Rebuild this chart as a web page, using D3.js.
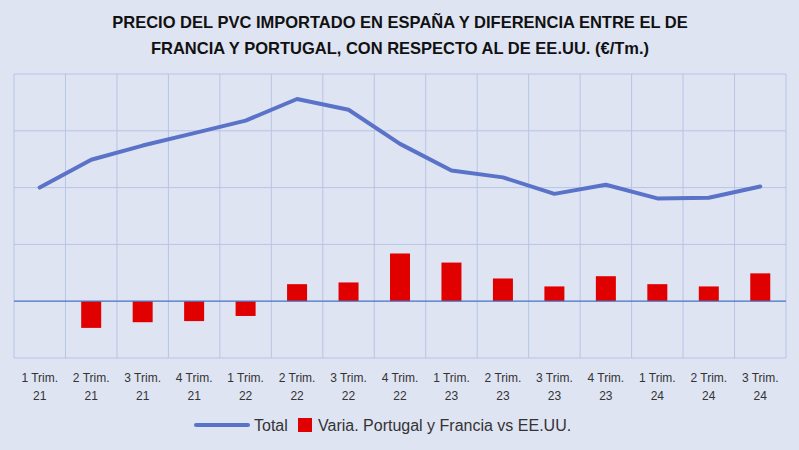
<!DOCTYPE html>
<html><head><meta charset="utf-8">
<script src="https://cdn.jsdelivr.net/npm/d3@7"></script>
<style>body{margin:0;background:#dfe4f3}</style></head>
<body><svg id="c" width="799" height="450"></svg>
<script>
const categories=["1 Trim.|21","2 Trim.|21","3 Trim.|21","4 Trim.|21","1 Trim.|22","2 Trim.|22","3 Trim.|22","4 Trim.|22","1 Trim.|23","2 Trim.|23","3 Trim.|23","4 Trim.|23","1 Trim.|24","2 Trim.|24","3 Trim.|24"];
const totalValues=[400,498,548,592,636,712,674,554,460,436,378,410,362,364,404];
const variaValues=[0,-94,-74,-70,-52,60,66,168,136,80,52,88,60,52,98];
const yTicks=[-200,0,200,400,600,800];
const svg=d3.select("#c");
svg.append("rect").attr("width",799).attr("height",450).attr("fill","#dfe4f3");
const x=d3.scaleBand().domain(categories).range([14,786]);
const y=d3.scaleLinear().domain([-200,800]).range([358,74]);
const g=svg.append("g");
yTicks.forEach(t=>{ if(t!==0) g.append("line").attr("x1",14).attr("x2",786).attr("y1",y(t)).attr("y2",y(t)).attr("stroke","#b7c4e6").attr("stroke-width",1);});
categories.concat(["end"]).forEach((c,i)=>{const xx=14+i*x.bandwidth();g.append("line").attr("x1",xx).attr("x2",xx).attr("y1",74).attr("y2",358).attr("stroke","#b7c4e6");});
g.selectAll("rect.b").data(variaValues).join("rect").attr("fill","#e00000")
 .attr("x",(d,i)=>x(categories[i])+x.bandwidth()/2-10).attr("width",20)
 .attr("y",d=>y(Math.max(0,d))).attr("height",d=>Math.abs(y(d)-y(0)));
g.append("line").attr("x1",14).attr("x2",786).attr("y1",y(0)).attr("y2",y(0)).attr("stroke","#4472c4").attr("stroke-width",1.2);
g.append("path").datum(totalValues).attr("fill","none").attr("stroke","#5a73c8").attr("stroke-width",4).attr("stroke-linejoin","round").attr("stroke-linecap","round")
 .attr("d",d3.line().x((d,i)=>x(categories[i])+x.bandwidth()/2).y(d=>y(d)));
categories.forEach(c=>{const [a,b]=c.split("|");const cx=x(c)+x.bandwidth()/2;
 const t=svg.append("text").attr("x",cx).attr("text-anchor","middle").attr("font-family","Liberation Sans, Arial").attr("font-size",12).attr("fill","#333");
 t.append("tspan").attr("x",cx).attr("y",382).text(a);t.append("tspan").attr("x",cx).attr("y",400).text(b);});
const title=["PRECIO DEL PVC IMPORTADO EN ESPAÑA Y DIFERENCIA ENTRE EL DE","FRANCIA Y PORTUGAL, CON RESPECTO AL DE EE.UU. (€/Tm.)"];
title.forEach((s,i)=>svg.append("text").attr("x",400).attr("y",28+i*26).attr("text-anchor","middle").attr("font-family","Liberation Sans, Arial").attr("font-weight","bold").attr("font-size",16.5).attr("fill","#111").text(s));
svg.append("line").attr("x1",196).attr("x2",248).attr("y1",425).attr("y2",425).attr("stroke","#5a73c8").attr("stroke-width",4).attr("stroke-linecap","round");
svg.append("text").attr("x",254).attr("y",431).attr("font-family","Liberation Sans, Arial").attr("font-size",16).attr("fill","#333").text("Total");
svg.append("rect").attr("x",298).attr("y",418).attr("width",14).attr("height",14).attr("fill","#e00000");
svg.append("text").attr("x",318).attr("y",431).attr("font-family","Liberation Sans, Arial").attr("font-size",16).attr("fill","#333").text("Varia. Portugal y Francia vs EE.UU.");
</script></body></html>
